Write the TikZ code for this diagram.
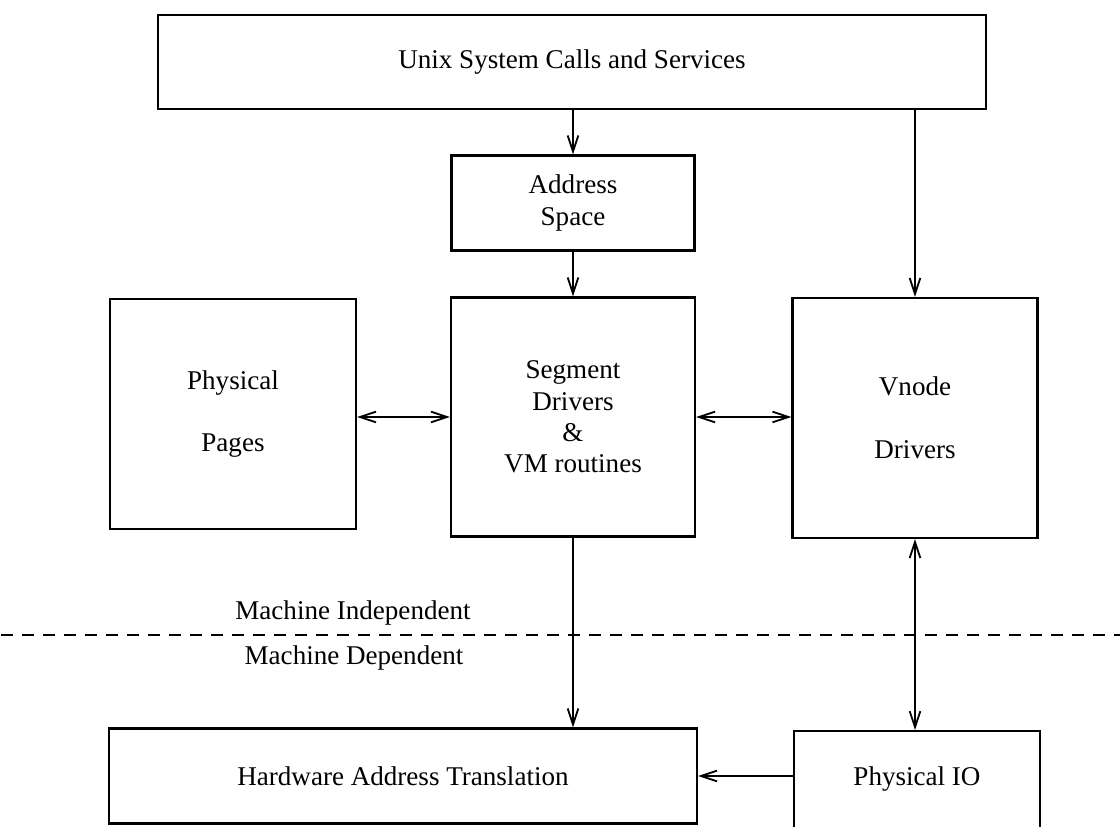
\documentclass[tikz,border=0pt]{standalone}
\usepackage{fontspec}
\setmainfont{Liberation Serif}
\usetikzlibrary{arrows.meta}
\tikzset{
  barb/.tip={Straight Barb[length=12pt,width=8pt]},
  box/.style={draw, line width=1.8pt, inner sep=0pt, align=center,
    font=\fontsize{20.3}{23.6}\selectfont},
  lab/.style={inner sep=0pt, font=\fontsize{20.3}{23.6}\selectfont},
  conn/.style={line width=1.35pt, -barb},
  biconn/.style={line width=1.35pt, barb-barb},
  divider/.style={line width=1.4pt, dash pattern=on 9pt off 6.75pt}
}
\begin{document}
\begin{tikzpicture}[x=0.75pt,y=-0.75pt]
\useasboundingbox (0,0) rectangle (1120,827);
\clip (0,0) rectangle (1120,827);
% boxes
\node[box, minimum width=828*0.75pt, minimum height=94*0.75pt] (top) at (572,62) {Unix System Calls and Services};
\node[box, minimum width=243*0.75pt, minimum height=95*0.75pt] (addr) at (573,203) {Address\\Space};
\node[box, minimum width=246*0.75pt, minimum height=230*0.75pt] (pp) at (233,414) {Physical\\[23.6pt]Pages};
\node[box, minimum width=244*0.75pt, minimum height=239*0.75pt] (seg) at (573,417) {Segment\\Drivers\\\&\\VM routines};
\node[box, minimum width=245*0.75pt, minimum height=240*0.75pt] (vn) at (915,418) {Vnode\\[23.6pt]Drivers};
\node[box, minimum width=588*0.75pt, minimum height=95*0.75pt] (hw) at (403,776) {Hardware Address Translation};
\node[box, anchor=north, minimum width=246*0.75pt, text height=40.5pt, text depth=90pt] (pio) at (917,730) {Physical IO};
% divider
\coordinate (dl) at (-20,635);
\coordinate (dr) at (1140,635);
\draw[divider] (dl) -- (dr);
\node[lab] (mi) at (353,613) {Machine Independent};
\node[lab] (md) at (354,658) {Machine Dependent};
% connectors
\draw[conn] (addr.north |- top.south) -- (addr.north);
\draw[conn] (addr.south) -- (addr.south |- seg.north);
\draw[conn] (vn.north |- top.south) -- (vn.north);
\draw[biconn] (pp.east |- seg.west) -- (seg.west);
\draw[biconn] (seg.east) -- (vn.west |- seg.east);
\draw[conn] (seg.south) -- (seg.south |- hw.north);
\draw[biconn] (vn.south) -- (vn.south |- pio.north);
\draw[conn] (pio.west |- hw.east) -- (hw.east);
\end{tikzpicture}
\end{document}
